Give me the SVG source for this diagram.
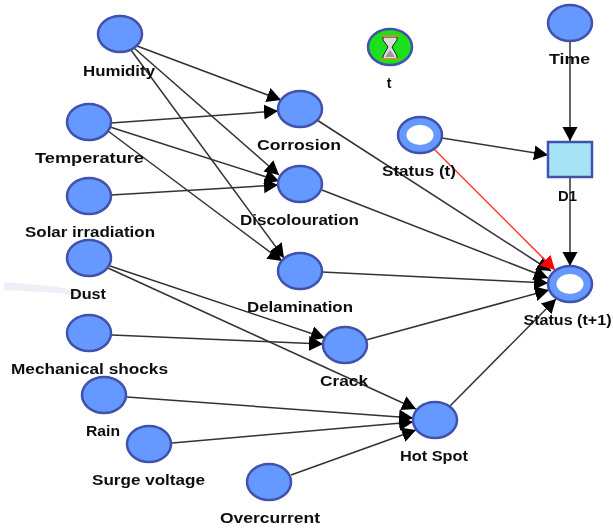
<svg xmlns="http://www.w3.org/2000/svg" width="613" height="529" viewBox="0 0 613 529">
<style>
text{font-family:"Liberation Sans",Arial,sans-serif;font-weight:bold;font-size:14px;fill:#111;text-anchor:middle}
.n{fill:#6699ff;stroke:#3f51ae;stroke-width:2.5}
.i{fill:#fff}
.c line{stroke:#333;stroke-width:1.5;marker-end:url(#a)}
</style>
<defs>
<marker id="a" markerUnits="userSpaceOnUse" markerWidth="16" markerHeight="16" refX="14" refY="7.5" orient="auto"><path d="M0 0L14 7.5L0 15z" fill="#000"/></marker>
<marker id="r" markerUnits="userSpaceOnUse" markerWidth="16" markerHeight="16" refX="14" refY="7.5" orient="auto"><path d="M0 0L14 7.5L0 15z" fill="#f00"/></marker>
<filter id="soft" filterUnits="userSpaceOnUse" x="0" y="0" width="613" height="529"><feGaussianBlur stdDeviation="0.45"/></filter>
</defs>
<rect width="613" height="529" fill="#fff"/>
<g filter="url(#soft)">
<path d="M4 282L60 287L115 303L60 293L4 290z" fill="#eef0f8"/>
<g id="connectors" class="c">
<line x1="137" y1="46" x2="281" y2="100"/>
<line x1="134" y1="48" x2="279" y2="175"/>
<line x1="131" y1="50" x2="284" y2="258"/>
<line x1="111" y1="123" x2="278" y2="111"/>
<line x1="110" y1="127" x2="279" y2="181"/>
<line x1="108" y1="131" x2="282" y2="261"/>
<line x1="111" y1="195" x2="278" y2="185"/>
<line x1="110" y1="266" x2="325" y2="338"/>
<line x1="108" y1="268" x2="416" y2="409"/>
<line x1="112" y1="335" x2="323" y2="344"/>
<line x1="127" y1="397" x2="413" y2="418"/>
<line x1="172" y1="443" x2="413" y2="422"/>
<line x1="291" y1="475" x2="416" y2="430"/>
<line x1="317" y1="120" x2="551" y2="271"/>
<line x1="322" y1="190" x2="548" y2="278"/>
<line x1="322" y1="272" x2="548" y2="283"/>
<line x1="366" y1="340" x2="549" y2="290"/>
<line x1="450" y1="406" x2="556" y2="299"/>
<line x1="442" y1="138" x2="548" y2="155"/>
<line x1="570" y1="41" x2="570" y2="141"/>
<line x1="570" y1="177" x2="570" y2="266"/>
<line x1="434" y1="149" x2="555" y2="270" style="stroke:#f33;marker-end:url(#r)"/>
</g>
<g id="humidity"><ellipse class="n" cx="120" cy="34" rx="22" ry="18"/><text x="119" y="76" textLength="72" lengthAdjust="spacingAndGlyphs">Humidity</text></g>
<g id="temperature"><ellipse class="n" cx="89" cy="122" rx="22" ry="18"/><text x="89.500" y="163" textLength="109" lengthAdjust="spacingAndGlyphs">Temperature</text></g>
<g id="solar"><ellipse class="n" cx="89" cy="196" rx="22" ry="18"/><text x="90" y="237" textLength="130" lengthAdjust="spacingAndGlyphs">Solar irradiation</text></g>
<g id="dust"><ellipse class="n" cx="89" cy="258" rx="22" ry="18"/><text x="88" y="299" textLength="36" lengthAdjust="spacingAndGlyphs">Dust</text></g>
<g id="mechanical"><ellipse class="n" cx="89" cy="333" rx="22" ry="18"/><text x="89.500" y="374" textLength="157" lengthAdjust="spacingAndGlyphs">Mechanical shocks</text></g>
<g id="rain"><ellipse class="n" cx="104" cy="395" rx="22" ry="18"/><text x="103" y="436" textLength="34" lengthAdjust="spacingAndGlyphs">Rain</text></g>
<g id="surge"><ellipse class="n" cx="149" cy="444" rx="22" ry="18"/><text x="148.500" y="485" textLength="113" lengthAdjust="spacingAndGlyphs">Surge voltage</text></g>
<g id="overcurrent"><ellipse class="n" cx="269" cy="482" rx="22" ry="18"/><text x="270" y="523" textLength="100" lengthAdjust="spacingAndGlyphs">Overcurrent</text></g>
<g id="corrosion"><ellipse class="n" cx="300" cy="109" rx="22" ry="18"/><text x="299" y="150" textLength="84" lengthAdjust="spacingAndGlyphs">Corrosion</text></g>
<g id="discolouration"><ellipse class="n" cx="300" cy="184" rx="22" ry="18"/><text x="299.500" y="225" textLength="119" lengthAdjust="spacingAndGlyphs">Discolouration</text></g>
<g id="delamination"><ellipse class="n" cx="300" cy="271" rx="22" ry="18"/><text x="300" y="312" textLength="106" lengthAdjust="spacingAndGlyphs">Delamination</text></g>
<g id="crack"><ellipse class="n" cx="345" cy="345" rx="22" ry="18"/><text x="344" y="386" textLength="48" lengthAdjust="spacingAndGlyphs">Crack</text></g>
<g id="hotspot"><ellipse class="n" cx="435" cy="420" rx="22" ry="18"/><text x="434" y="461" textLength="68" lengthAdjust="spacingAndGlyphs">Hot Spot</text></g>
<g id="t"><ellipse cx="390" cy="47" rx="22" ry="18" fill="#1de01d" stroke="#3f51ae" stroke-width="2.5"/>
<path d="M383 37H397V40L392 47L397 56V59H383V56L388 47L383 40z" fill="#ddd" stroke="#222" stroke-width="1"/>
<path d="M381 36H399M381 59H399" stroke="#b89a20" stroke-width="2"/>
<path d="M385 57L390 50L395 57z" fill="#999"/>
<text x="389" y="88">t</text></g>
<g id="time"><ellipse class="n" cx="570" cy="23" rx="22" ry="18"/><text x="569.500" y="64" textLength="41" lengthAdjust="spacingAndGlyphs">Time</text></g>
<g id="status-t"><ellipse class="n" cx="420" cy="135" rx="22" ry="18"/><ellipse class="i" cx="420" cy="135" rx="13.500" ry="10"/><text x="419" y="176" textLength="74" lengthAdjust="spacingAndGlyphs">Status (t)</text></g>
<g id="d1"><rect x="548" y="142" width="44" height="35" fill="#a6e3f7" stroke="#3f51ae" stroke-width="2.5"/><text x="567.500" y="201" textLength="19" lengthAdjust="spacingAndGlyphs">D1</text></g>
<g id="status-t1"><ellipse class="n" cx="570" cy="284" rx="22" ry="18"/><ellipse class="i" cx="570" cy="284" rx="13.500" ry="10"/><text x="567.500" y="325" textLength="88" lengthAdjust="spacingAndGlyphs">Status (t+1)</text></g>
</g>
</svg>
